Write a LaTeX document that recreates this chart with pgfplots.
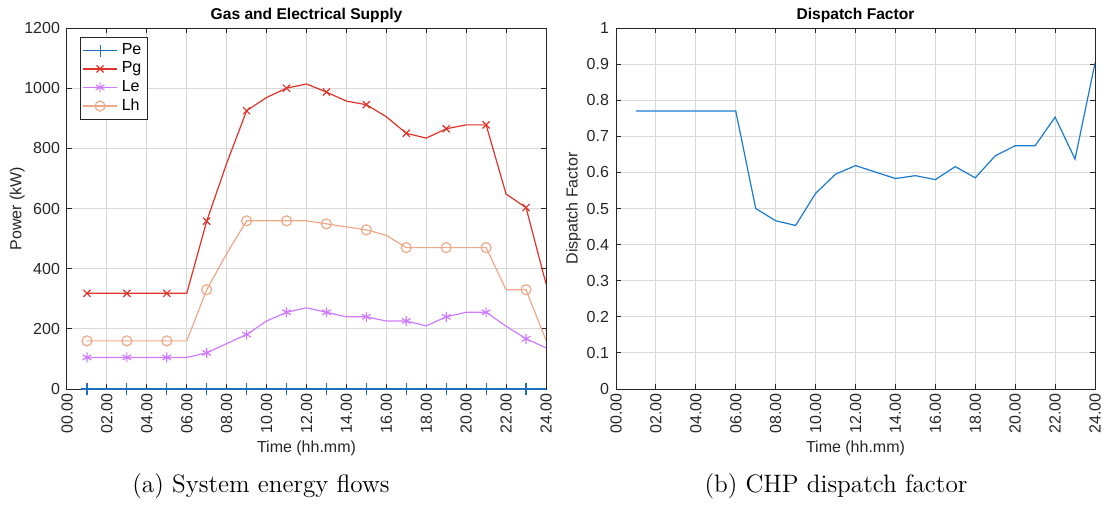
\documentclass[border=0pt]{standalone}
\usepackage{fontspec}
\usepackage{pgfplots}
\usepackage{pgfplotstable}
\pgfplotsset{compat=1.18}
\newfontfamily\arial{Liberation Sans}
\definecolor{cPe}{HTML}{1F6FC0}
\definecolor{cPg}{HTML}{E0332A}
\definecolor{cLe}{HTML}{CF7CFF}
\definecolor{cLh}{HTML}{F0A988}
\definecolor{cDF}{HTML}{1A7CCF}
\pgfplotstableread{
x Pe Pg Le Lh
1 0 318 105 160
2 0 318 105 160
3 0 318 105 160
4 0 318 105 160
5 0 318 105 160
6 0 318 105 160
7 0 558 120 330
8 0 750 151 450
9 0 925 181 559
10 0 969 226 559
11 0 1000 255 559
12 0 1014 270 559
13 0 987 255 549
14 0 957 240 539
15 0 945 240 529
16 0 905 226 511
17 0 850 226 470
18 0 834 210 470
19 0 865 240 470
20 0 878 255 470
21 0 878 255 470
22 0 648 209 330
23 0 603 167 330
24 0 350 137 162
}\flows
\pgfplotstableread{
x DF
1 0.770
2 0.770
3 0.770
4 0.770
5 0.770
6 0.770
7 0.500
8 0.466
9 0.453
10 0.542
11 0.595
12 0.619
13 0.601
14 0.583
15 0.591
16 0.580
17 0.616
18 0.585
19 0.646
20 0.674
21 0.674
22 0.753
23 0.637
24 0.903
}\dispatch
\pgfplotsset{
  common/.style={
    scale only axis, width=239.5pt, height=180.5pt,
    xmin=0, xmax=24, xtick={0,2,...,24},
    xticklabels={00.00,02.00,04.00,06.00,08.00,10.00,12.00,14.00,16.00,18.00,20.00,22.00,24.00},
    xticklabel style={rotate=90, anchor=east, inner sep=2pt},
    grid=major, major grid style={black!15, line width=0.5pt},
    axis line style={black!85, line width=0.5pt},
    tick style={black!85, line width=0.5pt},
    major tick length=2.5pt,
    tick label style={font=\arial\fontsize{8}{9.5}\selectfont, text=black!85},
    label style={font=\arial\fontsize{8}{9.5}\selectfont, text=black!85},
    title style={font=\arial\bfseries\fontsize{7.8}{9}\selectfont, yshift=-7pt},
    /pgf/number format/assume math mode=true,
    /pgf/number format/1000 sep={},
    xlabel={Time (hh.mm)},
    xlabel style={yshift=2pt},
    anchor=north west,
  }
}
\begin{document}
\begin{tikzpicture}
\path[use as bounding box] (0,0) rectangle (551.5pt,-252pt);
\begin{axis}[common, at={(33.5pt,-14pt)},
  ymin=0, ymax=1200, ytick={0,200,...,1200},
  title={Gas and Electrical Supply}, ylabel={Power (kW)},
  ylabel style={yshift=-7pt},
  legend style={font=\arial\fontsize{8}{9}\selectfont, at={(0.027,0.975)}, anchor=north west,
    draw=black!85, line width=0.5pt, row sep=-1.8pt, inner sep=1pt},
  legend cell align=left]
\addplot[cPe, line width=0.6pt, mark=+, mark size=3pt, mark repeat=2, mark phase=1] table[x=x,y=Pe]{\flows};
\addplot[cPg, line width=0.6pt, mark=x, mark size=2.5pt, mark repeat=2, mark phase=1] table[x=x,y=Pg]{\flows};
\addplot[cLe, line width=0.6pt, mark=asterisk, mark size=2.5pt, mark repeat=2, mark phase=1] table[x=x,y=Le]{\flows};
\addplot[cLh, line width=0.6pt, mark=o, mark size=2.5pt, mark repeat=2, mark phase=1] table[x=x,y=Lh]{\flows};
\legend{Pe,Pg,Le,Lh}
\end{axis}
\begin{axis}[common, at={(308pt,-14pt)},
  ymin=0, ymax=1, ytick={0,0.1,...,1.0},
  yticklabels={0,0.1,0.2,0.3,0.4,0.5,0.6,0.7,0.8,0.9,1},
  ylabel style={yshift=-4pt},
  title={Dispatch Factor}, ylabel={Dispatch Factor}]
\addplot[cDF, line width=0.6pt] table[x=x,y=DF]{\dispatch};
\end{axis}
\node[font=\fontsize{12.6}{15}\selectfont] at (130.5pt,-243pt) {(a) System energy flows};
\node[font=\fontsize{12.6}{15}\selectfont] at (418pt,-243pt) {(b) CHP dispatch factor};
\end{tikzpicture}
\end{document}
